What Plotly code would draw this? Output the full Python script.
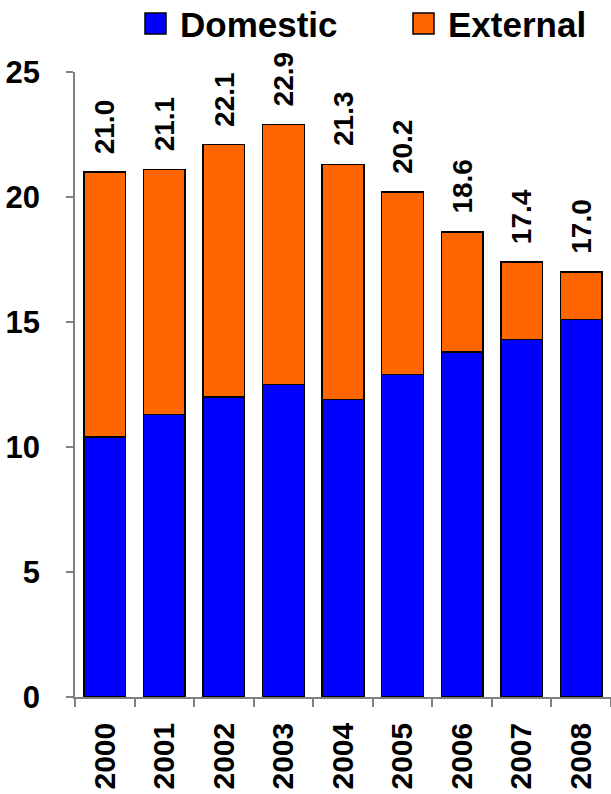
import plotly.graph_objects as go

years = ["2000", "2001", "2002", "2003", "2004", "2005", "2006", "2007", "2008"]
domestic = [10.4, 11.3, 12.0, 12.5, 11.9, 12.9, 13.8, 14.3, 15.1]
totals = [21.0, 21.1, 22.1, 22.9, 21.3, 20.2, 18.6, 17.4, 17.0]
external = [round(t - d, 2) for t, d in zip(totals, domestic)]
y_ticks = [0, 5, 10, 15, 20, 25]

BLUE = "#0000FF"
ORANGE = "#FF6600"
FONT = "Liberation Sans, Arial, sans-serif"

W, H = 611, 794
L, R, T, B = 75, 0, 72, 97
PW, PH = W - L - R, H - T - B

def px(x):
    return (x - L) / PW

def py(y):
    return (H - B - y) / PH

fig = go.Figure()
fig.add_trace(go.Bar(x=years, y=domestic, name="Domestic",
                     marker=dict(color=BLUE, line=dict(color="black", width=1.5))))
fig.add_trace(go.Bar(x=years, y=external, name="External",
                     marker=dict(color=ORANGE, line=dict(color="black", width=1.5))))

# category axes place annotations by serial index
for i, t in enumerate(totals):
    fig.add_annotation(x=i, y=t, xref="x", yref="y", text=f"{t:.1f}",
                       textangle=-90, showarrow=False, yanchor="bottom",
                       xanchor="center", yshift=16,
                       font=dict(family=FONT, size=28, color="black", weight="bold"))

# legend (custom, large squares)
for x0, col, label in [(145, BLUE, "Domestic"), (413, ORANGE, "External")]:
    fig.add_shape(type="rect", xref="paper", yref="paper",
                  x0=px(x0), x1=px(x0 + 21), y0=py(34), y1=py(13),
                  fillcolor=col, line=dict(color="black", width=1.5))
    fig.add_annotation(xref="paper", yref="paper", x=px(x0 + 33), y=py(24),
                       text=label, showarrow=False, xanchor="left", yanchor="middle",
                       font=dict(family=FONT, size=35, color="black", weight="bold"))

fig.update_layout(
    width=W, height=H, barmode="stack", bargap=0.3,
    margin=dict(l=L, r=R, t=T, b=B, autoexpand=False),
    plot_bgcolor="white", paper_bgcolor="white", showlegend=False,
    font=dict(family=FONT, size=30, color="black", weight="bold"),
)
fig.update_xaxes(type="category", range=[-0.5, len(years) - 0.5], showgrid=False,
                 showline=True, linecolor="#808080",
                 linewidth=1.5, ticks="outside", tickson="boundaries", ticklen=8,
                 tickcolor="#808080", tickwidth=1.5, tickangle=-90, ticklabelstandoff=12,
                 tickfont=dict(family=FONT, size=30, color="black", weight="bold"))
fig.update_yaxes(range=[0, 25], tickvals=y_ticks, showgrid=False, showline=True,
                 linecolor="#808080", linewidth=1.5, ticks="outside", ticklen=7,
                 tickcolor="#808080", tickwidth=1.5, ticklabelstandoff=20, zeroline=False,
                 tickfont=dict(family=FONT, size=31, color="black", weight="bold"))

fig.write_html("out.html", config={"displayModeBar": False},
               post_script="document.body.style.margin='0px';")
